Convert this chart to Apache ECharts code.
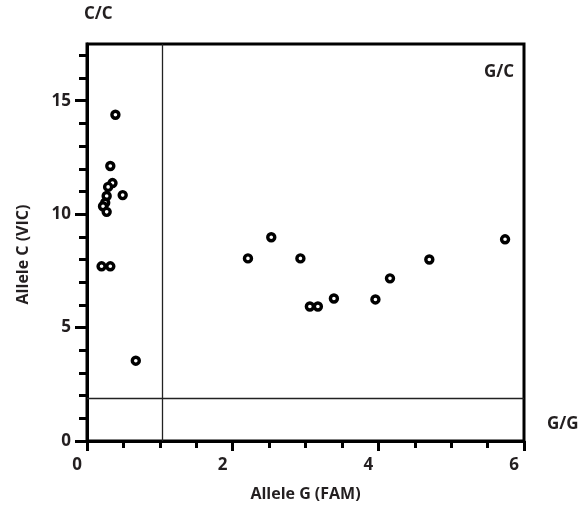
<!DOCTYPE html>
<html>
<head>
<meta charset="utf-8">
<script src="https://cdn.jsdelivr.net/npm/echarts@6/dist/echarts.min.js"></script>
<style>html,body{margin:0;padding:0;background:#fff}#c{width:585px;height:512px}</style>
</head>
<body>
<div id="c"></div>
<script>
// Cluster C/C (low FAM, high VIC)
const ccX = [0.39, 0.32, 0.35, 0.29, 0.49, 0.27, 0.25, 0.22, 0.27, 0.20, 0.32, 0.67];
const ccY = [14.38, 12.12, 11.37, 11.2, 10.84, 10.8, 10.5, 10.35, 10.1, 7.7, 7.7, 3.54];
// Cluster G/C
const gcX = [2.21, 2.53, 2.93, 3.06, 3.17, 3.39, 3.96, 4.16, 4.70, 5.74];
const gcY = [8.05, 8.98, 8.05, 5.93, 5.93, 6.28, 6.24, 7.17, 8.0, 8.89];
// Thresholds
const thresholdX = 1.03;
const thresholdY = 1.9;
// Axis ticks
const xTicks = [0, 2, 4, 6];
const yMajorTicks = [0, 5, 10, 15];
const yMinorTicks = [1, 2, 3, 4, 6, 7, 8, 9, 11, 12, 13, 14, 16, 17];
const quadrantLabels = ['C/C', 'G/C', 'G/G'];

const TXT = '#231f20';
const FONT = '"Open Sans", "Noto Sans", sans-serif';

const pts = [];
ccX.forEach((x, i) => pts.push([x, ccY[i]]));
gcX.forEach((x, i) => pts.push([x, gcY[i]]));

const chart = echarts.init(document.getElementById('c'), null, {renderer: 'canvas'});
chart.setOption({
  animation: false,
  grid: {left: 87, right: 61, top: 44, bottom: 71, show: true, borderColor: '#000', borderWidth: 3, backgroundColor: 'transparent'},
  xAxis: {
    type: 'value', min: 0, max: 6, interval: 2,
    name: 'Allele G (FAM)', nameLocation: 'middle', nameGap: 45,
    nameTextStyle: {fontFamily: FONT, fontWeight: 'bold', fontSize: 16, color: TXT},
    axisLine: {show: true, lineStyle: {color: '#000', width: 3}},
    axisTick: {show: true, length: 10, lineStyle: {color: '#000', width: 3}},
    minorTick: {show: true, splitNumber: 4, length: 7, lineStyle: {color: '#000', width: 3}},
    splitLine: {show: false},
    axisLabel: {margin: 16, fontFamily: FONT, fontWeight: 'bold', fontSize: 17, color: TXT, padding: [0, 20, 0, 0]}
  },
  yAxis: [{
    type: 'value', min: 0, max: 17.5,
    name: 'Allele C (VIC)', nameLocation: 'middle', nameGap: 56, nameRotate: 90,
    nameTextStyle: {fontFamily: FONT, fontWeight: 'bold', fontSize: 16, color: TXT, padding: [0, 24, 0, 0]},
    axisLine: {show: true, lineStyle: {color: '#000', width: 3}},
    axisTick: {show: true, length: 12, customValues: yMajorTicks, lineStyle: {color: '#000', width: 3}},
    splitLine: {show: false},
    axisLabel: {margin: 16, customValues: yMajorTicks, fontFamily: FONT, fontWeight: 'bold', fontSize: 17, color: TXT}
  }, {
    type: 'value', min: 0, max: 17.5, position: 'left',
    axisLine: {show: false},
    axisTick: {show: true, length: 8, customValues: yMinorTicks, lineStyle: {color: '#000', width: 3}},
    splitLine: {show: false},
    axisLabel: {show: false}
  }],
  graphic: [
    {type: 'text', left: 84, top: 6, style: {text: quadrantLabels[0], font: 'bold 17px ' + FONT, fill: TXT}},
    {type: 'text', left: 484, top: 64, style: {text: quadrantLabels[1], font: 'bold 17px ' + FONT, fill: TXT}},
    {type: 'text', left: 547, top: 416, style: {text: quadrantLabels[2], font: 'bold 17px ' + FONT, fill: TXT}}
  ],
  series: [{
    type: 'scatter',
    data: pts,
    symbol: 'circle',
    symbolSize: 7,
    itemStyle: {color: '#fff', borderColor: '#000', borderWidth: 3.4, opacity: 1},
    markLine: {
      silent: true, symbol: 'none', label: {show: false},
      lineStyle: {color: '#222', width: 1.3, type: 'solid'},
      data: [{xAxis: thresholdX}, {yAxis: thresholdY}]
    }
  }]
});
</script>
</body>
</html>
